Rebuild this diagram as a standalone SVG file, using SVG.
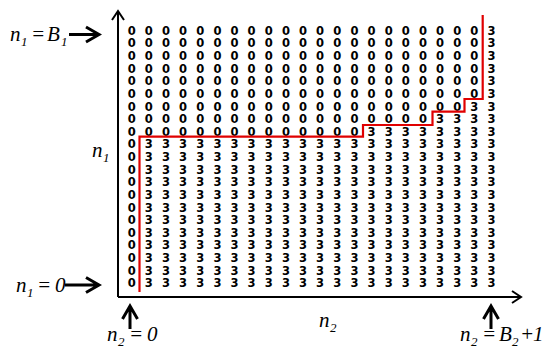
<svg xmlns="http://www.w3.org/2000/svg" width="546" height="350" viewBox="0 0 546 350">
<style>
.g{font-family:"DejaVu Sans",sans-serif;font-size:11.5px;font-weight:bold;fill:#000;text-anchor:middle}
text.lbl{font-family:"Liberation Serif","Times New Roman",serif;font-style:italic;font-size:21px;fill:#000}
.sub{font-size:13px}
.ax{stroke:#000;stroke-width:2;fill:none}
.ar{stroke:#000;stroke-width:3;fill:none}
</style>
<g id="axes">
<path class="ax" d="M118 297 V11 M112 20 L118 11 L124 20"/>
<path class="ax" d="M118 297 H521 M512 291 L521 297 L512 303"/>
</g>
<g id="grid" class="g">
<text y="34.7" x="131.7 148.8 166 183.1 200.2 217.4 234.5 251.6 268.7 285.9 303 320.1 337.3 354.4 371.5 388.7 405.8 422.9 440 457.2 474.3 491.4">0000000000000000000003</text>
<text y="47.3" x="131.7 148.8 166 183.1 200.2 217.4 234.5 251.6 268.7 285.9 303 320.1 337.3 354.4 371.5 388.7 405.8 422.9 440 457.2 474.3 491.4">0000000000000000000003</text>
<text y="60" x="131.7 148.8 166 183.1 200.2 217.4 234.5 251.6 268.7 285.9 303 320.1 337.3 354.4 371.5 388.7 405.8 422.9 440 457.2 474.3 491.4">0000000000000000000003</text>
<text y="72.6" x="131.7 148.8 166 183.1 200.2 217.4 234.5 251.6 268.7 285.9 303 320.1 337.3 354.4 371.5 388.7 405.8 422.9 440 457.2 474.3 491.4">0000000000000000000003</text>
<text y="85.2" x="131.7 148.8 166 183.1 200.2 217.4 234.5 251.6 268.7 285.9 303 320.1 337.3 354.4 371.5 388.7 405.8 422.9 440 457.2 474.3 491.4">0000000000000000000003</text>
<text y="97.9" x="131.7 148.8 166 183.1 200.2 217.4 234.5 251.6 268.7 285.9 303 320.1 337.3 354.4 371.5 388.7 405.8 422.9 440 457.2 474.3 491.4">0000000000000000000003</text>
<text y="110.5" x="131.7 148.8 166 183.1 200.2 217.4 234.5 251.6 268.7 285.9 303 320.1 337.3 354.4 371.5 388.7 405.8 422.9 440 457.2 474.3 491.4">0000000000000000000033</text>
<text y="123.1" x="131.7 148.8 166 183.1 200.2 217.4 234.5 251.6 268.7 285.9 303 320.1 337.3 354.4 371.5 388.7 405.8 422.9 440 457.2 474.3 491.4">0000000000000000003333</text>
<text y="135.7" x="131.7 148.8 166 183.1 200.2 217.4 234.5 251.6 268.7 285.9 303 320.1 337.3 354.4 371.5 388.7 405.8 422.9 440 457.2 474.3 491.4">0000000000000033333333</text>
<text y="148.4" x="131.7 148.8 166 183.1 200.2 217.4 234.5 251.6 268.7 285.9 303 320.1 337.3 354.4 371.5 388.7 405.8 422.9 440 457.2 474.3 491.4">0333333333333333333333</text>
<text y="161" x="131.7 148.8 166 183.1 200.2 217.4 234.5 251.6 268.7 285.9 303 320.1 337.3 354.4 371.5 388.7 405.8 422.9 440 457.2 474.3 491.4">0333333333333333333333</text>
<text y="173.6" x="131.7 148.8 166 183.1 200.2 217.4 234.5 251.6 268.7 285.9 303 320.1 337.3 354.4 371.5 388.7 405.8 422.9 440 457.2 474.3 491.4">0333333333333333333333</text>
<text y="186.3" x="131.7 148.8 166 183.1 200.2 217.4 234.5 251.6 268.7 285.9 303 320.1 337.3 354.4 371.5 388.7 405.8 422.9 440 457.2 474.3 491.4">0333333333333333333333</text>
<text y="198.9" x="131.7 148.8 166 183.1 200.2 217.4 234.5 251.6 268.7 285.9 303 320.1 337.3 354.4 371.5 388.7 405.8 422.9 440 457.2 474.3 491.4">0333333333333333333333</text>
<text y="211.5" x="131.7 148.8 166 183.1 200.2 217.4 234.5 251.6 268.7 285.9 303 320.1 337.3 354.4 371.5 388.7 405.8 422.9 440 457.2 474.3 491.4">0333333333333333333333</text>
<text y="224.2" x="131.7 148.8 166 183.1 200.2 217.4 234.5 251.6 268.7 285.9 303 320.1 337.3 354.4 371.5 388.7 405.8 422.9 440 457.2 474.3 491.4">0333333333333333333333</text>
<text y="236.8" x="131.7 148.8 166 183.1 200.2 217.4 234.5 251.6 268.7 285.9 303 320.1 337.3 354.4 371.5 388.7 405.8 422.9 440 457.2 474.3 491.4">0333333333333333333333</text>
<text y="249.4" x="131.7 148.8 166 183.1 200.2 217.4 234.5 251.6 268.7 285.9 303 320.1 337.3 354.4 371.5 388.7 405.8 422.9 440 457.2 474.3 491.4">0333333333333333333333</text>
<text y="262" x="131.7 148.8 166 183.1 200.2 217.4 234.5 251.6 268.7 285.9 303 320.1 337.3 354.4 371.5 388.7 405.8 422.9 440 457.2 474.3 491.4">0333333333333333333333</text>
<text y="274.7" x="131.7 148.8 166 183.1 200.2 217.4 234.5 251.6 268.7 285.9 303 320.1 337.3 354.4 371.5 388.7 405.8 422.9 440 457.2 474.3 491.4">0333333333333333333333</text>
<text y="287.3" x="131.7 148.8 166 183.1 200.2 217.4 234.5 251.6 268.7 285.9 303 320.1 337.3 354.4 371.5 388.7 405.8 422.9 440 457.2 474.3 491.4">0333333333333333333333</text>
</g>
<g id="boundary">
<path d="M139.5 292 V136.7 H363 V125 H432.5 V111.7 H464.5 V99 H482.7 V15" fill="none" stroke="#e00000" stroke-width="2.2"/>
</g>
<g id="label-top">
<text class="lbl" y="41"><tspan x="10">n</tspan><tspan class="sub" x="21" dy="5">1</tspan><tspan x="31" dy="-5">=</tspan><tspan x="47">B</tspan><tspan class="sub" x="61" dy="5">1</tspan></text>
<path class="ar" d="M69 34.5 H99 M86 27 L99 34.5 L86 42"/>
</g>
<g id="label-n1">
<text class="lbl" y="157"><tspan x="92">n</tspan><tspan class="sub" x="103" dy="5">1</tspan></text>
</g>
<g id="label-bottom-left">
<text class="lbl" y="292"><tspan x="16">n</tspan><tspan class="sub" x="27" dy="5">1</tspan><tspan x="37" dy="-5">=</tspan><tspan x="55">0</tspan></text>
<path class="ar" d="M65 285 H99 M86 277.5 L99 285 L86 292.5"/>
</g>
<g id="label-n2-0">
<path class="ar" d="M130 329 V306 M122.5 319 L130 306 L137.5 319"/>
<text class="lbl" y="341"><tspan x="107">n</tspan><tspan class="sub" x="118" dy="5">2</tspan><tspan x="129" dy="-5">=</tspan><tspan x="147">0</tspan></text>
</g>
<g id="label-n2">
<text class="lbl" y="327"><tspan x="319">n</tspan><tspan class="sub" x="330" dy="5">2</tspan></text>
</g>
<g id="label-n2-max">
<path class="ar" d="M491 329 V306 M483.5 319 L491 306 L498.5 319"/>
<text class="lbl" y="341"><tspan x="460">n</tspan><tspan class="sub" x="471" dy="5">2</tspan><tspan x="482" dy="-5">=</tspan><tspan x="499">B</tspan><tspan class="sub" x="512" dy="5">2</tspan><tspan x="520" dy="-5">+</tspan><tspan x="533">1</tspan></text>
</g>
</svg>
